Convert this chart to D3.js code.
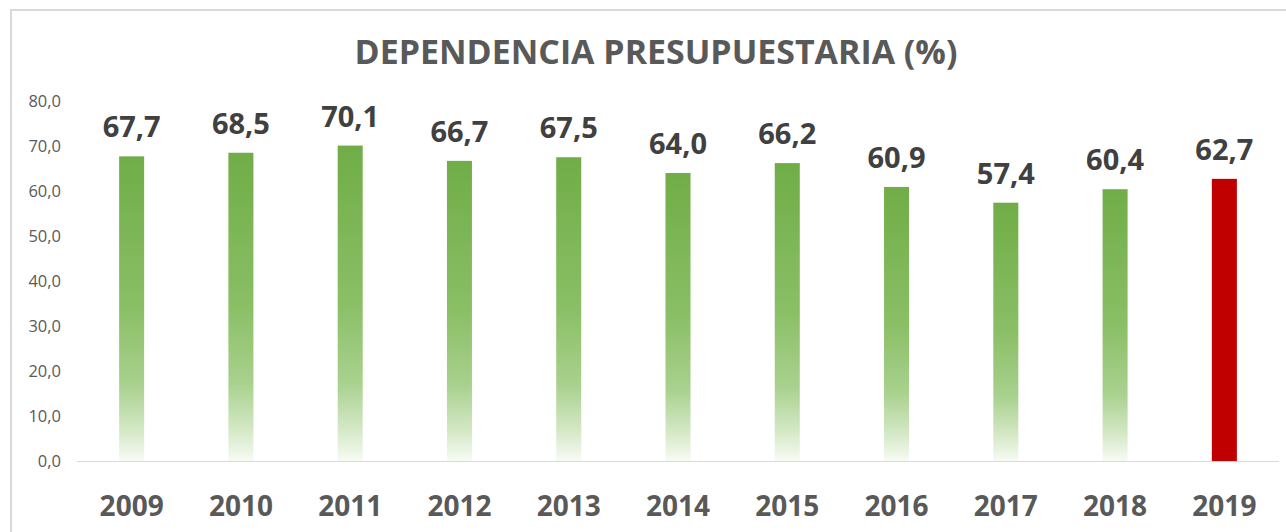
<!DOCTYPE html>
<html><head><meta charset="utf-8">
<script src="https://cdn.jsdelivr.net/npm/d3@7"></script>
<style>html,body{margin:0;padding:0;background:#fff;}svg{display:block;}</style>
</head><body>
<script>
const years = ["2009","2010","2011","2012","2013","2014","2015","2016","2017","2018","2019"];
const values = [67.7,68.5,70.1,66.7,67.5,64.0,66.2,60.9,57.4,60.4,62.7];
const yTicks = [0,10,20,30,40,50,60,70,80];
const title = "DEPENDENCIA PRESUPUESTARIA (%)";

const W = 1286, H = 532;
const svg = d3.select("body").append("svg").attr("width", W).attr("height", H);
const fmt = v => d3.format(".1f")(v).replace(".", ",");
const FONT = "'Open Sans', Lato, sans-serif";

const defs = svg.append("defs");
const grad = defs.append("linearGradient").attr("id","g").attr("x1",0).attr("y1",0).attr("x2",0).attr("y2",1);
[[0,"#70AD47",1],[0.5,"#8ABF66",1],[0.75,"#A9D18E",1],[0.9,"#D4E8C6",1],[1,"#F7FBF4",1]].forEach(s=>
  grad.append("stop").attr("offset",s[0]).attr("stop-color",s[1]).attr("stop-opacity",s[2]));

// chart frame
svg.append("rect").attr("x",11).attr("y",10).attr("width",1300).attr("height",600)
  .attr("fill","none").attr("stroke","#D9D9D9").attr("stroke-width",2);

const x = d3.scaleBand().domain(years).range([77,1279]).paddingInner(0.771).paddingOuter(0.3855);
const y = d3.scaleLinear().domain([0,80]).range([461,101]);

function fit(sel, target){
  const n = sel.node(); const w = n.getComputedTextLength();
  const fs = parseFloat(sel.attr("font-size"));
  sel.attr("font-size", fs*target/w);
}

// title
const t = svg.append("text").attr("x",656).attr("y",64).attr("text-anchor","middle")
  .attr("font-family",FONT).attr("font-weight",700).attr("font-size",32).attr("fill","#595959").text(title);
fit(t, 603);

// y axis labels
const yAxis = d3.axisLeft(y).tickValues(yTicks).tickFormat(fmt).tickSize(0).tickPadding(0);
const ya = svg.append("g").attr("transform","translate(61,0)").call(yAxis);
ya.select(".domain").remove();
ya.selectAll("text").attr("font-family",FONT).attr("font-size",16.5).attr("fill","#595959");

// baseline
svg.append("line").attr("x1",77).attr("x2",1279).attr("y1",y(0)+0.5).attr("y2",y(0)+0.5)
  .attr("stroke","#D9D9D9").attr("stroke-width",1);

// bars
svg.selectAll("rect.bar").data(years).join("rect").attr("class","bar")
  .attr("x",d=>x(d)).attr("width",x.bandwidth())
  .attr("y",(d,i)=>y(values[i])).attr("height",(d,i)=>y(0)-y(values[i]))
  .attr("fill",(d,i)=> d==="2019" ? "#C00000" : "url(#g)");

// value labels
svg.selectAll("text.val").data(years).join("text").attr("class","val")
  .attr("x",d=>x(d)+x.bandwidth()/2).attr("y",(d,i)=>y(values[i])-19)
  .attr("text-anchor","middle").attr("font-family",FONT).attr("font-weight",700)
  .attr("font-size",29).attr("fill","#404040").text((d,i)=>fmt(values[i]));

// x axis labels
const xAxis = d3.axisBottom(x).tickSize(0).tickPadding(0);
const xa = svg.append("g").attr("transform","translate(0,496)").call(xAxis);
xa.select(".domain").remove();
xa.selectAll("text").attr("font-family",FONT).attr("font-weight",700).attr("font-size",28).attr("fill","#595959");
</script>
</body></html>
